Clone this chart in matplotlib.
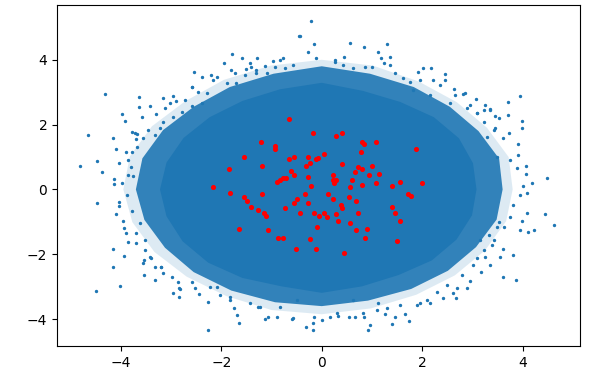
import matplotlib
matplotlib.use("Agg")
import matplotlib.pyplot as plt

# Dense core of the blue cloud (solid region boundary)
core_x = [3.08, 3.01, 2.73, 2.23, 1.56, 0.82, 0.00, -0.83, -1.58, -2.23, -2.75, -3.09,
          -3.22, -3.09, -2.77, -2.26, -1.58, -0.80, 0.00, 0.80, 1.53, 2.19, 2.68, 2.99]
core_y = [0.00, 0.81, 1.58, 2.23, 2.70, 3.04, 3.29, 3.09, 2.73, 2.23, 1.59, 0.83,
          0.00, -0.83, -1.60, -2.26, -2.73, -2.99, -3.19, -2.99, -2.64, -2.19, -1.55, -0.80]

# Densely speckled band around the core
band_x = [3.60, 3.53, 3.12, 2.55, 1.83, 0.96, 0.00, -0.96, -1.83, -2.55, -3.16, -3.57,
          -3.70, -3.53, -3.12, -2.55, -1.80, -0.93, 0.00, 0.92, 1.78, 2.51, 3.07, 3.48]
band_y = [0.00, 0.95, 1.80, 2.55, 3.16, 3.57, 3.80, 3.57, 3.16, 2.55, 1.83, 0.96,
          0.00, -0.94, -1.80, -2.55, -3.12, -3.48, -3.60, -3.43, -3.07, -2.51, -1.78, -0.93]

# Thin outer fringe
fringe_x = [3.80, 3.72, 3.29, 2.69, 1.93, 1.02, 0.00, -1.02, -1.95, -2.72, -3.38, -3.82,
            -3.95, -3.77, -3.33, -2.69, -1.90, -1.00, 0.00, 0.98, 1.88, 2.65, 3.25, 3.67]
fringe_y = [0.00, 1.00, 1.90, 2.69, 3.33, 3.82, 4.00, 3.82, 3.38, 2.72, 1.95, 1.02,
            0.00, -1.01, -1.93, -2.69, -3.29, -3.72, -3.85, -3.67, -3.25, -2.65, -1.88, -0.98]

# Sparse blue points outside the core
out_x = [-4.82, -4.66, -4.47, -4.37, -4.31, -4.16, -4.09, -4.04, -4.13, -4.13, -3.97, -3.91,
         -3.97, -3.89, -3.86, -3.63, -3.63, -3.57, -3.41, -3.45, -3.29, -3.78, -3.72, -3.67,
         -3.77, -3.70, -3.67, -3.85, -3.75, -3.79, -3.16, -2.96, -2.91, -2.73, -2.59, -2.54,
         -2.39, -2.21, -2.08, -1.95, -1.78, -1.81, -1.73, -1.58, -1.51, -1.43, -1.28, -1.31,
         -1.13, -0.97, -0.83, -0.77, -0.73, -0.58, -0.45,
         -0.22, -0.43, -0.15, -0.27, -0.12, 0.56, 0.85, 1.12, 1.30, 0.44, 0.27, 1.18, 1.35,
         0.86, 1.92, 2.02, 2.18, 2.45, 2.45, 2.21, 2.63, 2.82, 3.07, 3.70, 3.95, 3.35, 3.70,
         3.98, 3.98, 3.53, 3.72, 3.60, 3.91, 3.91, 4.07, 4.07, 4.48, 4.18, 4.01, 3.88, 3.75,
         3.48, 3.09, 2.95, 3.22, 3.42, 3.28,
         -4.47, -4.04, -4.04, -4.10, -3.95, -3.94, -3.90, -3.85, -4.16, -3.94, -4.16, -4.50,
         -4.01, -3.54, -3.32, -3.54, -3.70, -3.87, -3.77, -3.62, -3.51, -3.39, -3.19, -2.96,
         -2.85, -2.82, -2.45, -2.26, -2.26, -1.74, -1.68, -1.65, -1.13, -1.08, -0.90, -0.59,
         -1.26, -0.83, -2.09, -1.83,
         -0.31, -0.18, -0.17, -0.15, 0.01, 0.16, 0.33, 0.54, 0.66, 0.93, 0.97, 0.84, 1.25,
         1.40, 1.46, 1.74, 1.65, 2.41, 2.67, 2.62, 2.90, 2.95, 3.17, 3.34, 3.60, 3.86, 3.80,
         3.55, 3.60, 3.95, 4.10, 4.23, 4.45, 4.63, 4.08, 3.98, 4.08, 3.95, 3.75, 3.80, 3.62,
         3.42, 3.22, 1.96, 2.09, 1.11, 0.63, -0.50, -0.57,
         -1.40, -1.53, -1.30, -1.10, -0.93, -2.16, -1.89, -1.70, -2.59, -2.46, -2.29, -3.12,
         -3.02, -3.16, -2.96, -2.79, -2.59, -2.39, -3.56, -3.32, -3.22,
         0.26, 1.35, 1.23, 0.99, 0.63, 0.43, 1.76, 1.96, 1.46, 1.62, 2.35, 2.85, 2.65, 3.25,
         3.34, 3.44, 3.45, 3.22, 3.08, 2.89, 2.16, 1.82, 2.55,
         -3.56, -2.84, -3.42, -3.19, -3.16, -2.99, -2.86, -2.59, -2.53, -2.23, -2.03, -1.83,
         -1.43, -1.23, -3.32, -3.52, -3.69,
         3.38, 3.25, 2.69, 2.16, 1.89, 0.83, 1.09, 0.30, 3.02, 3.09, 3.32, 3.48, 3.52, 3.15,
         2.79, 2.49, 2.29, 1.56, 1.29]
out_y = [0.73, 1.69, 0.87, 0.53, 2.94, 1.60, 1.25, 0.82, 0.33, 0.16, 2.32, 2.12,
         0.19, 1.16, 0.92, 2.85, 2.55, 2.22, 2.56, 1.84, 2.32, 1.78, 1.73, 1.70,
         1.17, 1.55, 1.32, 0.44, 0.40, 0.70, 2.83, 2.89, 2.74, 2.76, 3.15, 3.62,
         3.48, 3.53, 3.46, 3.91, 4.19, 3.68, 3.59, 4.05, 3.72, 3.91, 4.05, 3.69,
         3.81, 3.97, 4.00, 4.05, 3.74, 3.84, 4.72,
         5.20, 4.73, 4.49, 4.24, 4.04, 4.53, 4.40, 4.24, 4.49, 4.09, 3.94, 4.07, 3.84,
         3.79, 3.63, 3.76, 3.75, 3.56, 3.37, 3.38, 3.11, 2.93, 2.79, 2.70, 2.89, 2.49, 2.30,
         2.11, 1.89, 2.19, 1.75, 1.58, 1.39, 1.07, 0.73, 0.49, 0.35, 0.19, 0.11, 0.65, 0.91,
         1.01, 2.35, 2.61, 2.45, 1.84, 1.63,
         -0.43, -0.38, -0.50, -0.77, -0.97, -1.18, -1.33, -1.63, -1.84, -2.05, -2.40, -3.12,
         -2.99, -2.65, -2.79, -2.18, -1.66, -0.17, -0.68, -1.04, -1.56, -2.12, -2.38, -3.19,
         -3.33, -3.08, -3.23, -3.46, -4.34, -3.67, -3.87, -4.11, -4.01, -3.93, -3.95, -4.01,
         -3.62, -3.62, -3.00, -3.31,
         -4.23, -4.34, -4.11, -3.95, -4.03, -3.93, -3.90, -3.95, -3.95, -4.34, -4.19, -3.95, -3.84,
         -4.15, -3.95, -4.05, -3.84, -3.36, -3.36, -3.20, -3.05, -2.81, -2.54, -2.33, -2.71, -2.79, -2.02,
         -2.07, -1.83, -1.25, -1.31, -1.25, -0.77, -1.10, -0.72, -0.96, -0.12, -0.17, -0.84, -0.48, -1.15,
         -1.56, -1.87, -3.51, -3.41, -3.51, -3.41, -3.41, -3.98,
         3.79, 3.53, 3.59, 3.59, 3.79, 3.38, 3.28, 3.28, 3.17, 3.02, 2.97, 2.51,
         2.66, 2.09, 2.25, 2.40, 2.56, 2.66, 1.58, 1.68, 1.89,
         4.00, 4.10, 3.89, 3.79, 3.74, 3.84, 3.30, 3.38, 3.59, 3.43, 3.23, 2.97, 2.92, 2.61,
         2.45, 2.27, 1.89, 2.09, 2.35, 2.51, 2.92, 3.07, 2.66,
         -2.28, -3.05, -2.07, -2.38, -2.59, -2.69, -2.85, -2.85, -3.05, -3.00, -3.26, -3.41,
         -3.51, -3.62, -2.38, -1.87, -1.35,
         -1.71, -2.07, -3.05, -3.51, -3.56, -3.82, -3.72, -3.82, -2.33, -2.12, -1.40, -1.15, -0.99, -1.56,
         -2.64, -2.95, -3.15, -3.56, -3.67]

# Red points
red_x = [-0.65, -0.18, -1.21, -0.93, -0.93, -1.55, -1.18, -1.85, -2.17, -0.65, -0.55, -0.27,
         -0.24, -0.31, -0.12, -0.08, 0.04, -0.61, -0.55, -0.27, -0.21, -0.89, -0.83, -0.77,
         -0.71, 0.28, 0.41, 0.81, 0.85, 1.07, 0.78, 1.87, 0.41, 0.72, 0.81, 1.00, 0.66,
         0.94, 1.13, 0.22, 0.22, 0.28, 0.25, 0.60, 1.07, 1.56, 1.99, 1.40, 0.81, 0.56,
         -1.83, -1.18, -1.55, -1.48, -1.40, -1.27, -1.15, -1.11, -0.74, -0.55, -0.49, -0.33,
         -0.27, 0.12, -0.43, -0.15, -0.06, 0.04, 0.10, -0.09, -1.64, -1.08, -0.87, -0.77,
         -0.24, -0.52, -0.12, 0.22, 0.54, 0.69, 1.72, 1.78, 0.38, 0.41, 1.40, 1.46, 1.56,
         0.28, 0.32, 0.72, 0.56, 0.91, 0.69, 0.87, 1.50, 0.44]
red_y = [2.18, 1.73, 1.45, 1.35, 1.24, 1.01, 0.73, 0.62, 0.06, 0.95, 1.01, 1.01,
         0.81, 0.73, 0.93, 0.98, 1.10, 0.58, 0.43, 0.39, 0.11, 0.24, 0.29, 0.35,
         0.36, 1.64, 1.73, 1.46, 1.40, 1.45, 1.16, 1.25, 0.79, 0.69, 0.62, 0.73, 0.53,
         0.44, 0.49, 0.43, 0.28, 0.28, 0.20, 0.28, 0.20, 0.24, 0.20, 0.10, 0.15, 0.06,
         -0.10, -0.14, -0.24, -0.35, -0.53, -0.62, -0.72, -0.82, -0.58, -0.43, -0.29, -0.15,
         -0.43, -0.14, -0.72, -0.72, -0.82, -0.72, -0.86, -1.16, -1.21, -1.25, -1.49, -1.49,
         -1.54, -1.83, -1.83, -0.29, -0.24, -0.35, -0.15, -0.20, -0.49, -0.57, -0.53, -0.73, -0.96,
         -0.77, -0.96, -0.72, -1.05, -1.21, -1.25, -1.50, -1.59, -1.97]

x_ticks = [-4, -2, 0, 2, 4]
y_ticks = [-4, -2, 0, 2, 4]

fig = plt.figure(figsize=(5.91, 3.79), dpi=100)
ax = fig.add_axes([57/591, 1 - 346/379, 523/591, 341/379])

blue = "#1f77b4"
ax.fill(fringe_x, fringe_y, color=blue, alpha=0.15, linewidth=0, zorder=1)
ax.fill(band_x, band_y, color=blue, alpha=0.9, linewidth=0, zorder=1.5)
ax.fill(core_x, core_y, color=blue, linewidth=0, zorder=2)
ax.scatter(out_x, out_y, s=2, color=blue, zorder=3)
ax.scatter(red_x, red_y, s=7, color="red", zorder=4)

ax.set_xlim(-5.27, 5.14)
ax.set_ylim(-4.83, 5.69)
ax.set_xticks(x_ticks)
ax.set_yticks(y_ticks)
ax.tick_params(labelsize=10)

fig.savefig("out.png", dpi=100)
